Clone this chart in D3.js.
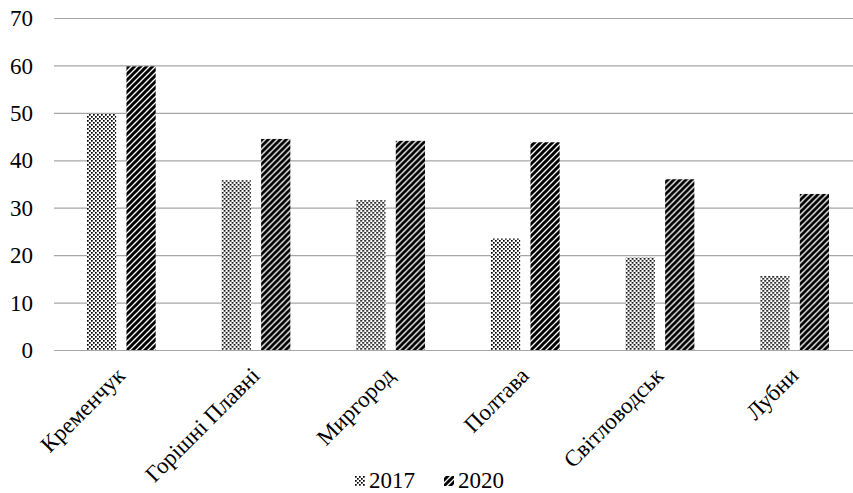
<!DOCTYPE html>
<html><head><meta charset="utf-8">
<script src="https://cdn.jsdelivr.net/npm/d3@7"></script>
<style>html,body{margin:0;padding:0;background:#fff;overflow:hidden}svg{display:block}</style>
</head><body>
<script>
const categories = ["Кременчук","Горішні Плавні","Миргород","Полтава","Світловодськ","Лубни"];
const seriesNames = ["2017","2020"];
const values2017 = [49.8, 35.8, 31.6, 23.5, 19.5, 15.6];
const values2020 = [59.8, 44.5, 44.1, 43.8, 36.0, 32.9];
const yTicks = [0,10,20,30,40,50,60,70];

(function(){
const W = 853, H = 493;
const svg = d3.select("body").append("svg").attr("width", W).attr("height", H);
const defs = svg.append("defs");
// dotted pattern
const p1 = defs.append("pattern").attr("id","dots").attr("patternUnits","userSpaceOnUse")
  .attr("width",4).attr("height",4);
p1.append("rect").attr("width",4).attr("height",4).attr("fill","#fff");
p1.append("rect").attr("x",0).attr("y",0).attr("width",1.7).attr("height",1.7).attr("fill","#000");
p1.append("rect").attr("x",2).attr("y",2).attr("width",1.7).attr("height",1.7).attr("fill","#000");
// diagonal stripes
const p2 = defs.append("pattern").attr("id","stripes").attr("patternUnits","userSpaceOnUse")
  .attr("width",6).attr("height",6);
p2.append("rect").attr("width",6).attr("height",6).attr("fill","#fff");
p2.append("path").attr("d","M-1,7 L7,-1 M-4,4 L4,-4 M2,10 L10,2").attr("stroke","#000").attr("stroke-width",3);

const fills = {"2017":"url(#dots)","2020":"url(#stripes)"};
const mLeft = 54, mRight = 862, mTop = 18, mBottom = 350;
const x0 = d3.scaleBand().domain(categories).range([mLeft,mRight]).paddingInner(0.49).paddingOuter(0.245);
const x1 = d3.scaleBand().domain(seriesNames).range([0,x0.bandwidth()]).paddingInner(0.26);
const y = d3.scaleLinear().domain([0,70]).range([mBottom, mTop]);

const font = "'Liberation Serif','Times New Roman',serif";

// gridlines
svg.append("g").selectAll("line").data(yTicks).join("line")
  .attr("x1",mLeft).attr("x2",mRight)
  .attr("y1",d=>y(d)+0.5).attr("y2",d=>y(d)+0.5)
  .attr("stroke","#a6a6a6").attr("stroke-width",1.2);

// y labels
const yAxis = d3.axisLeft(y).tickValues(yTicks).tickSize(0).tickPadding(0);
const ga = svg.append("g").attr("transform",`translate(33,0)`).call(yAxis);
ga.select(".domain").remove();
ga.selectAll("text").attr("font-family",font).attr("font-size",23).attr("fill","#000").attr("dy","0.33em");

// bars
const data = categories.map((c,i)=>({c, vals:[{s:"2017",v:values2017[i]},{s:"2020",v:values2020[i]}]}));
const g = svg.append("g").selectAll("g").data(data).join("g")
  .attr("transform",d=>`translate(${x0(d.c)},0)`);
g.selectAll("rect").data(d=>d.vals).join("rect")
  .attr("x",d=>x1(d.s)).attr("width",x1.bandwidth())
  .attr("y",d=>y(d.v)).attr("height",d=>y(0)-y(d.v))
  .attr("fill",d=>fills[d.s]);

// x labels
svg.append("g").selectAll("text").data(categories).join("text")
  .attr("transform",d=>`translate(${x0(d)+x0.bandwidth()/2+5},377) rotate(-45)`)
  .attr("text-anchor","end")
  .attr("font-family",font).attr("font-size",23).attr("fill","#000")
  .text(d=>d);

// legend
const legendX = [355, 444];
const lg = svg.append("g").selectAll("g").data(seriesNames).join("g")
  .attr("transform",(d,i)=>`translate(${legendX[i]},0)`);
lg.append("rect").attr("x",0).attr("y",476).attr("width",10).attr("height",10).attr("fill",d=>fills[d]);
lg.append("text").attr("x",14).attr("y",488).attr("font-family",font).attr("font-size",23).attr("fill","#000").text(d=>d);
})();
</script>
</body></html>
